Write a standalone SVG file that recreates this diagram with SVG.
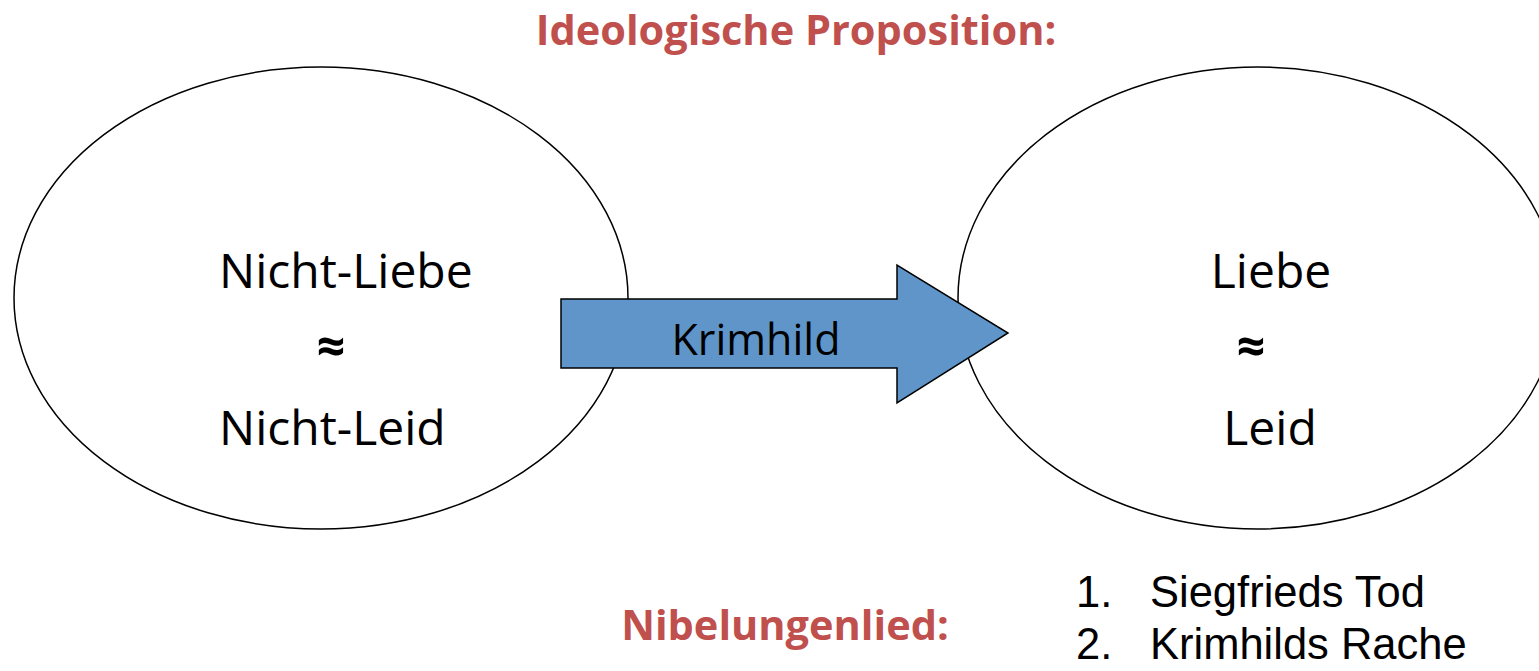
<svg xmlns="http://www.w3.org/2000/svg" width="1539" height="671" viewBox="0 0 1539 671">
<style>
.t{font-family:"Open Sans","Liberation Sans",sans-serif;font-size:48px;fill:#000}
.m{font-size:43px}
.l{font-family:"Liberation Sans",Arial,sans-serif;font-size:43.5px;fill:#000}
.a{font-family:"Open Sans","Liberation Sans",sans-serif;font-size:50px;font-weight:bold;fill:#000}
.h{font-family:"Open Sans","Liberation Sans",sans-serif;font-size:41.5px;font-weight:bold;fill:#c0504d}
.e{fill:#fff;stroke:#000;stroke-width:1.5}
</style>
<rect width="1539" height="671" fill="#fff"/>
<g id="title"><text class="h" x="796" y="45" text-anchor="middle">Ideologische Proposition:</text></g>
<g id="left"><ellipse class="e" cx="321" cy="298" rx="307" ry="231"/>
<text class="t" x="219" y="288">Nicht-Liebe</text>
<text class="a" x="331" y="364" text-anchor="middle">≈</text>
<text class="t" x="219" y="445">Nicht-Leid</text></g>
<g id="right"><ellipse class="e" cx="1258" cy="298" rx="300" ry="231"/>
<text class="t" x="1271" y="288" text-anchor="middle">Liebe</text>
<text class="a" x="1251" y="364" text-anchor="middle">≈</text>
<text class="t" x="1270" y="445" text-anchor="middle">Leid</text></g>
<g id="connectors"><path d="M561 299H897V265L1008 333L897 403V368H561Z" fill="#5f95c8" stroke="#000" stroke-width="1.5"/>
<text class="t m" x="756" y="355" text-anchor="middle">Krimhild</text></g>
<g id="nib"><text class="h" x="785" y="640" text-anchor="middle">Nibelungenlied:</text></g>
<g id="list"><text class="l" x="1076" y="607">1.</text><text class="l" x="1150" y="607">Siegfrieds Tod</text>
<text class="l" x="1076" y="659">2.</text><text class="l" x="1150" y="659">Krimhilds Rache</text></g>
</svg>
